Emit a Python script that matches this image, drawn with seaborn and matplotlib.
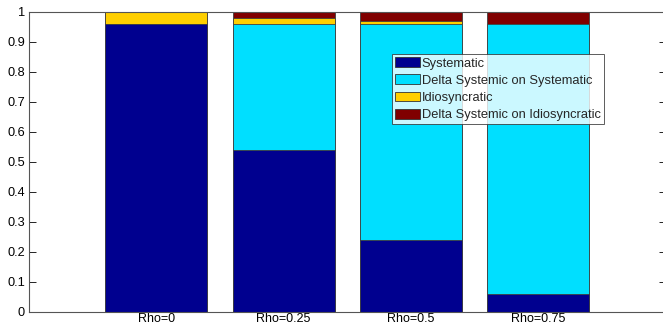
import matplotlib
matplotlib.use("Agg")
import matplotlib.pyplot as plt
import seaborn as sns
import numpy as np
import pandas as pd
from matplotlib.patches import Patch

categories = ["Rho=0", "Rho=0.25", "Rho=0.5", "Rho=0.75"]
systematic = [0.96, 0.54, 0.24, 0.06]
delta_sys = [0.00, 0.42, 0.72, 0.90]
idio = [0.04, 0.02, 0.01, 0.00]
delta_idio = [0.00, 0.02, 0.03, 0.04]

series_names = ["Systematic", "Delta Systemic on Systematic",
                "Idiosyncratic", "Delta Systemic on Idiosyncratic"]
colors = ["#00008F", "#00DFFF", "#FFCF00", "#800000"]

sns.set_style("white")
plt.rcParams['font.family'] = ['Liberation Sans', 'DejaVu Sans']

fig = plt.figure(figsize=(6.63, 3.26), dpi=100)
ax = fig.add_axes([29/663, 14.5/326, 636.5/663, 299.5/326])

vals = np.array([systematic, delta_sys, idio, delta_idio])
cum = np.cumsum(vals, axis=0)

# draw from top segment down so lower segments overlay
for i in range(3, -1, -1):
    df = pd.DataFrame({"cat": categories, "val": cum[i]})
    sns.barplot(data=df, x="cat", y="val", order=categories, color=colors[i],
                saturation=1, width=0.8, edgecolor="#404040", linewidth=0.6,
                ax=ax, errorbar=None)

ax.set_xlim(-1, 4)
ax.set_ylim(0, 1)
ax.set_yticks(np.arange(0, 1.01, 0.1))
ax.set_yticklabels(["0", "0.1", "0.2", "0.3", "0.4", "0.5", "0.6", "0.7", "0.8", "0.9", "1"])
ax.set_xlabel("")
ax.set_ylabel("")
ax.tick_params(axis="y", direction="in", labelsize=9.2, length=5, width=0.6,
               left=True, right=True, pad=3, colors="black")
ax.tick_params(axis="x", direction="in", labelsize=9.0, length=0, pad=1,
               bottom=True, top=False, colors="black")
for s in ax.spines.values():
    s.set_visible(True)
    s.set_color("#555555")
    s.set_linewidth(0.8)

handles = [Patch(facecolor=c, edgecolor="#333333", linewidth=0.6) for c in colors]
leg = ax.legend(handles, series_names, loc="upper left",
                bbox_to_anchor=((392 - 29) / 636.5, (312 - 54) / 300), borderaxespad=0,
                fontsize=9.3, frameon=True, fancybox=False,
                handlelength=1.9, handleheight=0.8, handletextpad=0.15,
                labelspacing=0.37, borderpad=0.25)
leg.get_frame().set_edgecolor("#333333")
leg.get_frame().set_linewidth(0.7)

fig.savefig("out.png", dpi=100)
